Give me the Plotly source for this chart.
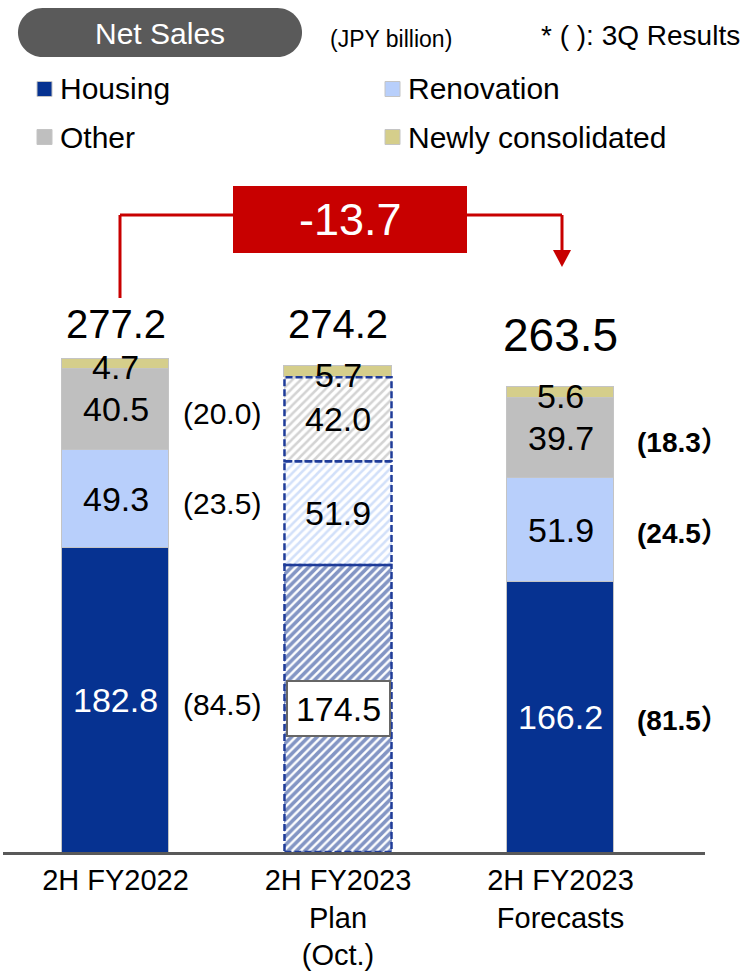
import plotly.graph_objects as go

# ---------------- data ----------------
categories = ["2H FY2022", "2H FY2023<br>Plan<br>(Oct.)", "2H FY2023<br>Forecasts"]
housing = [182.8, 174.5, 166.2]
renovation = [49.3, 51.9, 51.9]
other = [40.5, 42.0, 39.7]
newly = [4.7, 5.7, 5.6]
totals = [277.2, 274.2, 263.5]
q3_housing = [84.5, None, 81.5]
q3_renovation = [23.5, None, 24.5]
q3_other = [20.0, None, 18.3]
change_label = "-13.7"
series_names = ["Housing", "Renovation", "Other", "Newly consolidated"]

# ---------------- styling ----------------
FONT = "Liberation Sans, Arial, Noto Sans CJK JP, sans-serif"
C_HOUS = "#063291"
C_RENO = "#B8CFFB"
C_OTH = "#BFBFBF"
C_NEW = "#D5CE8B"
C_RED = "#C80000"
FIG_W, FIG_H = 747, 973
L, R, T, B = 3, 42, 160, 121
PW, PH = FIG_W - L - R, FIG_H - T - B
Y0 = 31
Y1 = Y0 + PH / 2.0
XMIN = -0.5056
XMAX = XMIN + PW / 222.5
BW = 0.481


def px(x):
    return (x - L) / PW


def py(y):
    return (FIG_H - B - y) / PH


actual = [0, 2]
plan = [1]

fig = go.Figure()
line_act = dict(color="#C4C4C4", width=1.5)


def add_seg(vals, color, pat_fg, name, solidity=0.4):
    fig.add_trace(go.Bar(x=actual, y=[vals[i] for i in actual], width=BW,
                         marker=dict(color=color, line=line_act), name=name,
                         showlegend=False, hoverinfo="skip"))
    if pat_fg is None:
        fig.add_trace(go.Bar(x=plan, y=[vals[i] for i in plan], width=BW,
                             marker=dict(color=color, line=line_act), name=name,
                             showlegend=False, hoverinfo="skip"))
    else:
        fig.add_trace(go.Bar(x=plan, y=[vals[i] for i in plan], width=BW,
                             marker=dict(color="white", line=dict(width=0),
                                         pattern=dict(shape="/", fgcolor=pat_fg, bgcolor="white",
                                                      size=6, solidity=solidity, fillmode="overlay")),
                             name=name, showlegend=False, hoverinfo="skip"))


add_seg(housing, C_HOUS, "#072C8A", "Housing", 0.6)
add_seg(renovation, C_RENO, "#A6C1F4", "Renovation", 0.42)
add_seg(other, C_OTH, "#A8A8A8", "Other", 0.42)
add_seg(newly, C_NEW, None, "Newly consolidated")

shapes = []
annotations = []

# dashed outlines for the plan bar
bases = [0, housing[1], housing[1] + renovation[1]]
tops = [housing[1], housing[1] + renovation[1], housing[1] + renovation[1] + other[1]]
for b0, t0 in zip(bases, tops):
    shapes.append(dict(type="rect", xref="x", yref="y", x0=1 - BW / 2, x1=1 + BW / 2,
                       y0=max(b0, Y0), y1=t0, line=dict(color="#1F3C99", width=2.5, dash="7px,3px"),
                       layer="above"))

# segment labels
for i in range(3):
    h, r, o, n = housing[i], renovation[i], other[i], newly[i]
    segs = [(Y0, h, h), (h, h + r, r), (h + r, h + r + o, o), (h + r + o, h + r + o + n, n)]
    for k, (a, b, v) in enumerate(segs):
        mid = (max(a, Y0) + b) / 2
        ann = dict(x=i, y=mid, xref="x", yref="y", text=f"{v:.1f}", showarrow=False,
                   xanchor="center", yanchor="middle",
                   font=dict(family=FONT, size=34, color="black"))
        if k == 0 and i != 1:
            ann["font"]["color"] = "white"
        if k == 0 and i == 1:
            ann.update(bgcolor="white", bordercolor="#666666", borderwidth=2, borderpad=2,
                       width=97, height=49)
        if k == 3:
            ann["yshift"] = -3
        annotations.append(ann)

# 3Q results labels
side_shift = [12, None, 21]
for i in [0, 2]:
    h, r, o = housing[i], renovation[i], other[i]
    mids = [(Y0 + h) / 2, h + r / 2, h + r + o / 2]
    vals = [q3_housing[i], q3_renovation[i], q3_other[i]]
    for m, v in zip(mids, vals):
        if i == 0:
            txt = f"({v:.1f})"
            fnt = dict(family=FONT, size=30, color="black")
        else:
            txt = f"<b>({v:.1f}）</b>"
            fnt = dict(family=FONT, size=28, color="black")
        annotations.append(dict(x=i + BW / 2, y=m, xref="x", yref="y", text=txt, showarrow=False,
                                xanchor="left", yanchor="middle", xshift=side_shift[i], yshift=-4,
                                font=fnt))

# totals
total_shift = [36, 42, 52]
total_size = [40, 40, 46]
for i in range(3):
    annotations.append(dict(x=i, y=totals[i], xref="x", yref="y", text=f"{totals[i]:.1f}",
                            showarrow=False, xanchor="center", yanchor="middle", yshift=total_shift[i],
                            font=dict(family=FONT, size=total_size[i], color="black")))

# change arrow
red_line = dict(color=C_RED, width=3)
shapes += [
    dict(type="line", xref="paper", yref="paper", x0=px(120), x1=px(120), y0=py(298), y1=py(215), line=red_line),
    dict(type="line", xref="paper", yref="paper", x0=px(120), x1=px(233), y0=py(215), y1=py(215), line=red_line),
    dict(type="line", xref="paper", yref="paper", x0=px(467), x1=px(562), y0=py(215), y1=py(215), line=red_line),
    dict(type="line", xref="paper", yref="paper", x0=px(562), x1=px(562), y0=py(215), y1=py(252), line=red_line),
    dict(type="path", xref="paper", yref="paper",
         path=f"M {px(553)} {py(250)} L {px(571)} {py(250)} L {px(562)} {py(267)} Z",
         fillcolor=C_RED, line=dict(width=0)),
    dict(type="rect", xref="paper", yref="paper", x0=px(233), x1=px(467), y0=py(253), y1=py(186),
         fillcolor=C_RED, line=dict(width=0)),
]
annotations.append(dict(x=px(350), y=py(219), xref="paper", yref="paper", text=change_label,
                        showarrow=False, xanchor="center", yanchor="middle",
                        font=dict(family=FONT, size=45, color="white")))

# title pill
x0p, x1p, y0p, y1p = 18, 302, 8, 57
rr = (y1p - y0p) / 2
kk = 0.5523 * rr
pts = [
    ("M", [(x0p + rr, y0p)]),
    ("L", [(x1p - rr, y0p)]),
    ("C", [(x1p - rr + kk, y0p), (x1p, y0p + rr - kk), (x1p, y0p + rr)]),
    ("C", [(x1p, y0p + rr + kk), (x1p - rr + kk, y1p), (x1p - rr, y1p)]),
    ("L", [(x0p + rr, y1p)]),
    ("C", [(x0p + rr - kk, y1p), (x0p, y0p + rr + kk), (x0p, y0p + rr)]),
    ("C", [(x0p, y0p + rr - kk), (x0p + rr - kk, y0p), (x0p + rr, y0p)]),
]
path = ""
for cmd, pl in pts:
    path += cmd + " " + " ".join(f"{px(a):.5f},{py(b):.5f}" for a, b in pl) + " "
path += "Z"
shapes.append(dict(type="path", xref="paper", yref="paper", path=path, fillcolor="#5A5A5A",
                   line=dict(width=0)))
annotations.append(dict(x=px(160), y=py(33), xref="paper", yref="paper", text="Net Sales",
                        showarrow=False, xanchor="center", yanchor="middle",
                        font=dict(family=FONT, size=30, color="white")))
annotations.append(dict(x=px(328), y=py(39), xref="paper", yref="paper", text="(JPY billion)",
                        showarrow=False, xanchor="left", yanchor="middle",
                        font=dict(family=FONT, size=23, color="black")))
annotations.append(dict(x=px(742), y=py(36), xref="paper", yref="paper", text="* ( ): 3Q Results",
                        showarrow=False, xanchor="right", yanchor="middle",
                        font=dict(family=FONT, size=28, color="black")))

# legend (manual)
leg_colors = [C_HOUS, C_RENO, C_OTH, C_NEW]
leg_pos = [(37, 89), (385, 89), (37, 137), (385, 137)]
for name, col, (lx, ly) in zip(series_names, leg_colors, leg_pos):
    shapes.append(dict(type="rect", xref="paper", yref="paper", x0=px(lx), x1=px(lx + 15),
                       y0=py(ly + 7.5), y1=py(ly - 7.5), fillcolor=col,
                       line=dict(color="#C4C4C4", width=1)))
    annotations.append(dict(x=px(lx + 21), y=py(ly), xref="paper", yref="paper", text=name,
                            showarrow=False, xanchor="left", yanchor="middle",
                            font=dict(family=FONT, size=30, color="black")))

fig.update_layout(
    width=FIG_W, height=FIG_H, barmode="stack", bargap=0,
    margin=dict(l=L, r=R, t=T, b=B, pad=0, autoexpand=False),
    plot_bgcolor="white", paper_bgcolor="white", showlegend=False,
    shapes=shapes, annotations=annotations,
    font=dict(family=FONT, color="black"),
)
fig.update_xaxes(range=[XMIN, XMAX], tickvals=[0, 1, 2], ticktext=categories, automargin=False,
                 showline=True, linecolor="#595959", linewidth=3, showgrid=False, zeroline=False,
                 ticks="", tickfont=dict(family=FONT, size=29, color="black"), fixedrange=True)
fig.update_yaxes(range=[Y0, Y1], visible=False, showgrid=False, zeroline=False, fixedrange=True,
                 automargin=False)

fig.write_html("out.html")
